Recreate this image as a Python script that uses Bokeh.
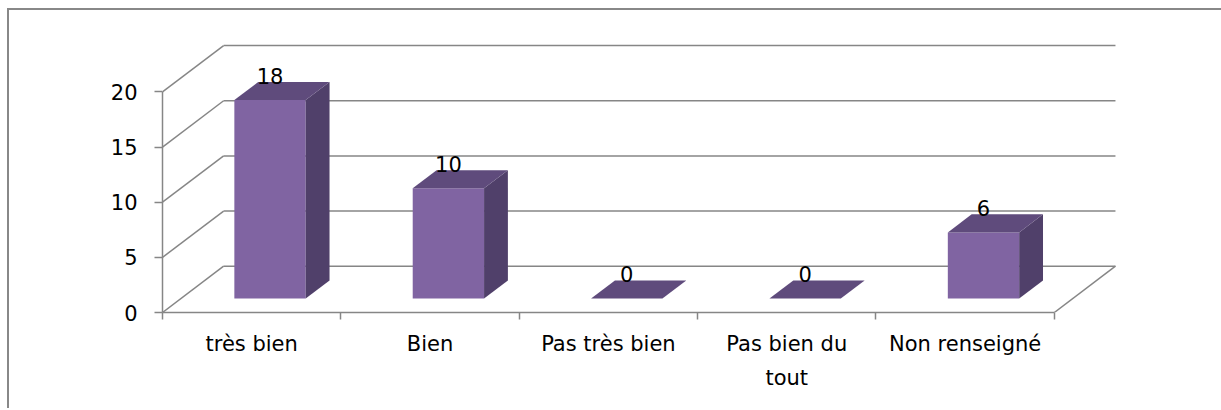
from bokeh.plotting import figure
from bokeh.models import Range1d, LinearAxis, FixedTicker
from bokeh.core.properties import value
from bokeh.embed import file_html
from bokeh.resources import INLINE

# ---- data ----
categories = ["très bien", "Bien", "Pas très bien", "Pas bien du\ntout", "Non renseigné"]
values = [18, 10, 0, 0, 6]
y_ticks = [0, 5, 10, 15, 20]

# ---- layout constants (pixels, canvas coordinates) ----
W, H = 1212, 398
FRAME_L, FRAME_R, FRAME_T, FRAME_B = 153, 1121, 20, 300
PX_CAT = 178.0          # pixels per category
PX_VAL = 10.95          # pixels per unit of value
DEPTH_PX = (61.0, 46.0) # oblique offset of the back wall
DX = DEPTH_PX[0] / PX_CAT
DY = DEPTH_PX[1] / PX_VAL
D0, D1 = 0.30, 0.69     # bar front/back depth fractions
BAR_W = 0.40
LABEL_GAP = 6.0 / PX_VAL  # gap between bar top and its value label

FONT = "DejaVu Sans"
FS = "21px"
GRID = "#868686"
FRONT, TOP, SIDE = "#8064A2", "#5F4B7C", "#50406A"

n = len(categories)
x_end = (FRAME_R - FRAME_L) / PX_CAT
y_end = (FRAME_B - FRAME_T) / PX_VAL

p = figure(width=W, height=H, output_backend="svg", toolbar_location=None,
           x_range=Range1d(0, x_end), y_range=Range1d(0, y_end),
           min_border_left=FRAME_L, min_border_right=W - FRAME_R,
           min_border_top=FRAME_T, min_border_bottom=H - FRAME_B,
           x_axis_type=None, y_axis_type=None)
p.outline_line_color = None
p.xgrid.visible = False
p.ygrid.visible = False
p.background_fill_color = "white"
p.border_fill_color = "white"
p.styles = {"box-sizing": "content-box", "margin-left": "7px", "margin-top": "8px",
            "border-left": "2px solid #888888", "border-top": "2px solid #888888"}

# ---- walls / grid ----
ymax = max(y_ticks)
p.segment(x0=[DX] * len(y_ticks), y0=[t + DY for t in y_ticks],
          x1=[n + DX] * len(y_ticks), y1=[t + DY for t in y_ticks],
          line_color=GRID, line_width=1.5)
p.segment(x0=[0] * len(y_ticks), y0=y_ticks,
          x1=[DX] * len(y_ticks), y1=[t + DY for t in y_ticks],
          line_color=GRID, line_width=1.5)
p.segment(x0=[n], y0=[0], x1=[n + DX], y1=[DY], line_color=GRID, line_width=1.5)

# ---- bars ----
centers = [i + 0.5 for i in range(n)]
xl = [c - BAR_W / 2 for c in centers]
xr = [c + BAR_W / 2 for c in centers]

top_xs, top_ys, side_xs, side_ys = [], [], [], []
for l, r, v in zip(xl, xr, values):
    top_xs.append([l + D0 * DX, r + D0 * DX, r + D1 * DX, l + D1 * DX])
    top_ys.append([v + D0 * DY, v + D0 * DY, v + D1 * DY, v + D1 * DY])
    side_xs.append([r + D0 * DX, r + D1 * DX, r + D1 * DX, r + D0 * DX])
    side_ys.append([D0 * DY, D1 * DY, v + D1 * DY, v + D0 * DY])

p.quad(left=[l + D0 * DX for l in xl], right=[r + D0 * DX for r in xr],
       bottom=[D0 * DY] * n, top=[v + D0 * DY for v in values],
       fill_color=FRONT, line_color=None)
p.patches(xs=side_xs, ys=side_ys, fill_color=SIDE, line_color=None)
p.patches(xs=top_xs, ys=top_ys, fill_color=TOP, line_color=None)

# ---- data labels ----
p.text(x=[c + D0 * DX for c in centers], y=[v + D1 * DY + LABEL_GAP for v in values],
       text=[str(v) for v in values], text_align="center", text_baseline="alphabetic",
       text_font=value(FONT), text_font_size=value(FS), text_color="black")

# ---- axes ----
yaxis = LinearAxis(bounds=(0, ymax), ticker=FixedTicker(ticks=y_ticks, minor_ticks=[]))
yaxis.axis_line_color = GRID
yaxis.axis_line_width = 1.5
yaxis.major_tick_line_color = GRID
yaxis.major_tick_line_width = 1.5
yaxis.major_tick_in = 0
yaxis.major_tick_out = 8
yaxis.minor_tick_line_color = None
yaxis.major_label_standoff = 17
yaxis.major_label_text_font = FONT
yaxis.major_label_text_font_size = FS
yaxis.major_label_text_color = "black"
p.add_layout(yaxis, "left")

xaxis = LinearAxis(bounds=(0, n),
                   ticker=FixedTicker(ticks=centers, minor_ticks=list(range(n + 1))))
xaxis.major_label_overrides = {c: lab for c, lab in zip(centers, categories)}
xaxis.axis_line_color = GRID
xaxis.axis_line_width = 1.5
xaxis.major_tick_line_color = None
xaxis.major_tick_in = 0
xaxis.major_tick_out = 0
xaxis.minor_tick_line_color = GRID
xaxis.minor_tick_line_width = 1.5
xaxis.minor_tick_in = 0
xaxis.minor_tick_out = 7
xaxis.major_label_standoff = 12
xaxis.major_label_text_font = FONT
xaxis.major_label_text_font_size = FS
xaxis.major_label_text_color = "black"
xaxis.major_label_text_line_height = 1.45
p.add_layout(xaxis, "below")

open("out.html", "w").write(file_html(p, INLINE))
